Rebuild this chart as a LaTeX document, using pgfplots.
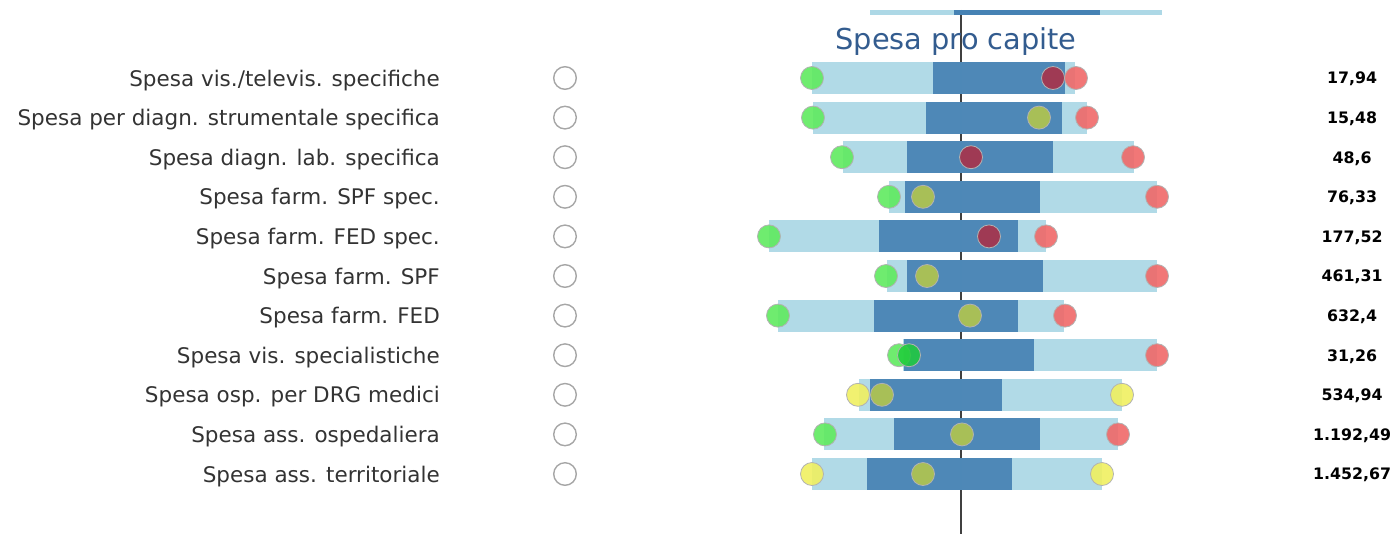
\documentclass[border=0pt]{standalone}
\usepackage{pgfplots}
\pgfplotsset{compat=1.18}
\usepackage{pgfplotstable}
\usepackage{fontspec}
\setmainfont{DejaVu Sans}

\definecolor{barlight}{HTML}{ADD8E6}
\definecolor{bardark}{HTML}{4682B4}
\definecolor{cgreen}{HTML}{5FEA5F}
\definecolor{cdkgreen}{HTML}{1FCC3A}
\definecolor{cred}{HTML}{F06868}
\definecolor{cdkred}{HTML}{A8324A}
\definecolor{colive}{HTML}{ADC252}
\definecolor{cyellow}{HTML}{F0F060}
\definecolor{titleblue}{HTML}{335C8F}
\definecolor{labelgray}{HTML}{333333}

% one row per indicator: centre y (px), light range, dark range
\pgfplotstableread{
y     llo   lhi   dlo   dhi
78.0  812   1075  933   1065
117.6 813   1087  926   1062
157.2 843   1134  907   1053
196.8 889   1157  905   1040
236.4 769   1046  879   1018
276.0 887   1157  907   1043
315.6 778   1064  874   1018
355.2 903   1157  904   1034
394.8 859   1122  870   1002
434.4 824   1118  894   1040
474.0 812   1102  867   1012
}\bars

\begin{document}
\begin{tikzpicture}
\begin{axis}[
    width=1398bp, height=534bp, scale only axis,
    xmin=0, xmax=1398, ymin=0, ymax=534,
    y dir=reverse,
    hide axis,
    clip=false,
]
\draw[draw=none] (rel axis cs:0,0) rectangle (rel axis cs:1,1);

% reference line
\addplot[color=black!75, line width=1.3bp] coordinates {(961,10) (961,534)};

% range bars
\addplot[draw=none, mark=none, forget plot,
    error bars/.cd, x dir=both, x explicit, error mark=none,
    error bar style={draw=barlight, line width=32bp, opacity=0.95}]
    table[x expr={(\thisrow{llo}+\thisrow{lhi})/2}, y=y,
          x error expr={(\thisrow{lhi}-\thisrow{llo})/2}] \bars;
\addplot[draw=none, mark=none, forget plot,
    error bars/.cd, x dir=both, x explicit, error mark=none,
    error bar style={draw=bardark, line width=32bp, opacity=0.92}]
    table[x expr={(\thisrow{dlo}+\thisrow{dhi})/2}, y=y,
          x error expr={(\thisrow{dhi}-\thisrow{dlo})/2}] \bars;
% cut-off row at the top
\addplot[barlight, line width=5bp] coordinates {(870,12.5) (1162,12.5)};
\addplot[bardark, line width=5bp] coordinates {(954,12.5) (1100,12.5)};

% empty selection circles
\addplot[only marks, mark=o, mark size=11.3bp,
    mark options={draw=black!35, line width=1.4bp}] coordinates {
    (565,78.0) (565,117.6) (565,157.2) (565,196.8) (565,236.4) (565,276.0)
    (565,315.6) (565,355.2) (565,394.8) (565,434.4) (565,474.0)};

% dots
\addplot[only marks, mark=*, mark size=11.5bp,
    mark options={fill=cgreen, draw=black!30, fill opacity=0.9, line width=0.8bp}] coordinates {
    (812,78.0) (813,117.6) (842,157.2) (889,196.8) (769,236.4) (886,276.0)
    (778,315.6) (899,355.2) (825,434.4)};
\addplot[only marks, mark=*, mark size=11.5bp,
    mark options={fill=cdkgreen, draw=black!30, fill opacity=0.85, line width=0.8bp}] coordinates {
    (909,355.2)};
\addplot[only marks, mark=*, mark size=11.5bp,
    mark options={fill=cdkred, draw=black!30, fill opacity=0.9, line width=0.8bp}] coordinates {
    (1053,78.0) (971,157.2) (989,236.4)};
\addplot[only marks, mark=*, mark size=11.5bp,
    mark options={fill=cred, draw=black!30, fill opacity=0.9, line width=0.8bp}] coordinates {
    (1076,78.0) (1087,117.6) (1133,157.2) (1157,196.8) (1046,236.4) (1157,276.0)
    (1065,315.6) (1157,355.2) (1118,434.4)};
\addplot[only marks, mark=*, mark size=11.5bp,
    mark options={fill=colive, draw=black!30, fill opacity=0.95, line width=0.8bp}] coordinates {
    (1039,117.6) (923,196.8) (927,276.0) (970,315.6) (882,394.8) (962,434.4) (923,474.0)};
\addplot[only marks, mark=*, mark size=11.5bp,
    mark options={fill=cyellow, draw=black!30, fill opacity=0.9, line width=0.8bp}] coordinates {
    (858,394.8) (1122,394.8) (812,474.0) (1102,474.0)};

% title
\node[anchor=base, inner sep=0pt, text=titleblue, font=\fontsize{28.8bp}{32bp}\selectfont]
    at (axis cs:956,50) {Spesa pro capite};

% row labels
\begin{scope}[every node/.style={anchor=base east, inner sep=0pt, text=labelgray,
    font=\fontsize{21.5bp}{24bp}\selectfont}]
\node at (axis cs:440,86.0)  {Spesa vis./televis. specifiche};
\node at (axis cs:440,125.6) {Spesa per diagn. strumentale specifica};
\node at (axis cs:440,165.2) {Spesa diagn. lab. specifica};
\node at (axis cs:440,204.8) {Spesa farm. SPF spec.};
\node at (axis cs:440,244.4) {Spesa farm. FED spec.};
\node at (axis cs:440,284.0) {Spesa farm. SPF};
\node at (axis cs:440,323.6) {Spesa farm. FED};
\node at (axis cs:440,363.2) {Spesa vis. specialistiche};
\node at (axis cs:440,402.8) {Spesa osp. per DRG medici};
\node at (axis cs:440,442.4) {Spesa ass. ospedaliera};
\node at (axis cs:440,482.0) {Spesa ass. territoriale};
\end{scope}

% values
\begin{scope}[every node/.style={anchor=base, inner sep=0pt, text=black,
    font=\bfseries\fontsize{15.8bp}{18bp}\selectfont}]
\node at (axis cs:1352,83.8)  {17,94};
\node at (axis cs:1352,123.4) {15,48};
\node at (axis cs:1352,163.0) {48,6};
\node at (axis cs:1352,202.6) {76,33};
\node at (axis cs:1352,242.2) {177,52};
\node at (axis cs:1352,281.8) {461,31};
\node at (axis cs:1352,321.4) {632,4};
\node at (axis cs:1352,361.0) {31,26};
\node at (axis cs:1352,400.6) {534,94};
\node at (axis cs:1352,440.2) {1.192,49};
\node at (axis cs:1352,479.8) {1.452,67};
\end{scope}
\end{axis}
\end{tikzpicture}
\end{document}
